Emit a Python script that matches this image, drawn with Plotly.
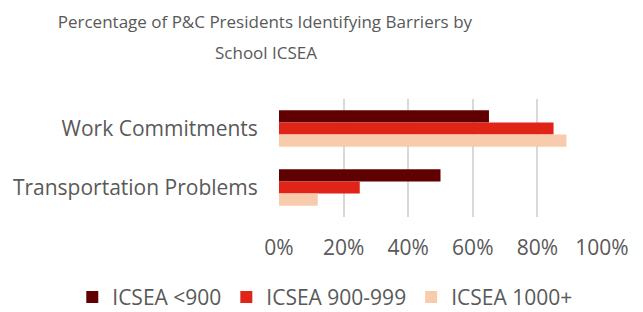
import plotly.graph_objects as go

categories = ["Work Commitments", "Transportation Problems"]
series_names = ["ICSEA <900", "ICSEA 900-999", "ICSEA 1000+"]
values_lt900 = [0.65, 0.50]
values_900_999 = [0.85, 0.25]
values_1000p = [0.89, 0.12]
colors = ["#600000", "#E02418", "#F8CBAD"]
title_line1 = "Percentage of P&C Presidents Identifying Barriers by"
title_line2 = "School ICSEA"

FONT = "Open Sans, sans-serif"
TXT = "#595959"

fig = go.Figure()
for name, vals, col in zip(series_names, [values_lt900, values_900_999, values_1000p], colors):
    fig.add_trace(go.Bar(y=categories, x=vals, name=name, orientation="h",
                         marker=dict(color=col, line=dict(width=0))))

fig.update_layout(
    width=643, height=312,
    margin=dict(l=279, r=41, t=99, b=95, autoexpand=False),
    paper_bgcolor="white", plot_bgcolor="white",
    barmode="group", bargap=0.378, bargroupgap=0,
    font=dict(family=FONT, color=TXT, size=21),
    title=dict(text=title_line1,
               x=0.412, xanchor="center", xref="container",
               y=1 - 22 / 312, yanchor="middle", yref="container",
               font=dict(size=17, color=TXT, family=FONT)),
    showlegend=True,
    legend=dict(orientation="h", x=-0.64, xanchor="left", y=-0.68, yanchor="middle",
                font=dict(size=21, color=TXT, family=FONT), traceorder="normal"),
)
fig.add_annotation(text=title_line2, xref="paper", yref="paper", x=-0.040, y=1.398,
                   xanchor="center", yanchor="middle", showarrow=False,
                   font=dict(size=17, color=TXT, family=FONT))
fig.update_xaxes(range=[0, 1.0], dtick=0.2, tickformat=".0%", showgrid=True,
                 gridcolor="#D9D9D9", gridwidth=1.5, zeroline=False, showline=False,
                 ticks="outside", ticklen=12, tickcolor="rgba(0,0,0,0)", automargin=False,
                 tickfont=dict(size=21, color=TXT, family=FONT))
fig.update_yaxes(autorange="reversed", showgrid=False, zeroline=False, showline=False,
                 ticks="outside", ticklen=16, tickcolor="rgba(0,0,0,0)", automargin=False,
                 tickfont=dict(size=21, color=TXT, family=FONT))

fig.write_html("out.html", config={"displayModeBar": False},
               post_script="document.body.style.margin='0';document.body.style.padding='0';")
